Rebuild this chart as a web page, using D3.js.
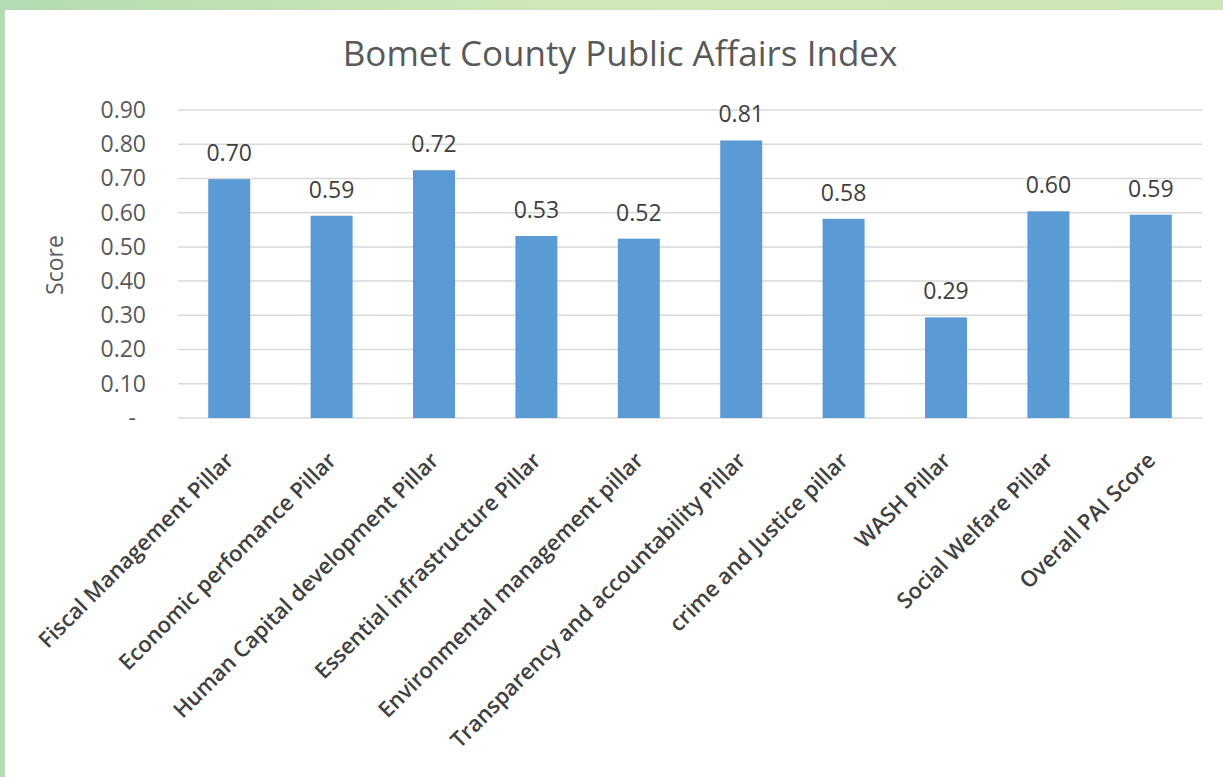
<!DOCTYPE html>
<html>
<head>
<meta charset="utf-8">
<script src="https://cdn.jsdelivr.net/npm/d3@7"></script>
<style>
  body { margin: 0; }
  svg { display: block; font-family: "Open Sans", sans-serif; }
</style>
</head>
<body>
<svg id="chart" width="1223" height="777"></svg>
<script>
// pillar names and scores
var categories = [
	'Fiscal Management Pillar',
	'Economic perfomance Pillar',
	'Human Capital development Pillar',
	'Essential infrastructure Pillar',
	'Environmental management pillar',
	'Transparency and accountability Pillar',
	'crime and Justice pillar',
	'WASH Pillar',
	'Social Welfare Pillar',
	'Overall PAI Score'
];
var scores = [0.698, 0.591, 0.724, 0.532, 0.524, 0.811, 0.582, 0.294, 0.604, 0.594];
var yTicks = [0, 0.1, 0.2, 0.3, 0.4, 0.5, 0.6, 0.7, 0.8, 0.9];

var svg = d3.select('#chart'),
		W = +svg.attr('width'),
		H = +svg.attr('height');

// green frame behind the white card
var defs = svg.append('defs');
var grad = defs.append('linearGradient').attr('id', 'frame')
		.attr('x1', 0).attr('y1', 0).attr('x2', 1).attr('y2', 0);
grad.append('stop').attr('offset', '0%').attr('stop-color', '#b4dbb2');
grad.append('stop').attr('offset', '45%').attr('stop-color', '#cfe8b9');
grad.append('stop').attr('offset', '100%').attr('stop-color', '#cce7b6');
svg.append('rect').attr('width', W).attr('height', H).attr('fill', 'url(#frame)');
svg.append('rect').attr('x', 5).attr('y', 10).attr('width', W - 5).attr('height', H - 10).attr('fill', '#fff');

var margin = {top: 110, left: 178, right: 21},
		plotH = 308,
		plotW = W - margin.left - margin.right;

var g = svg.append('g').attr('transform', 'translate(' + margin.left + ',' + margin.top + ')');

var x = d3.scaleBand().domain(categories).range([0, plotW]).paddingInner(0.59).paddingOuter(0.295);
var y = d3.scaleLinear().domain([0, 0.9]).range([plotH, 0]);

// gridlines
g.append('g').selectAll('line')
	.data(yTicks)
	.enter().append('line')
	.attr('x1', 0).attr('x2', plotW)
	.attr('y1', function(d) { return y(d); })
	.attr('y2', function(d) { return y(d); })
	.attr('stroke', '#d9d9d9')
	.attr('stroke-width', 1.5);

// y axis labels
var yAxis = d3.axisLeft(y).tickValues(yTicks).tickSize(0).tickPadding(32)
		.tickFormat(function(d) { return d === 0 ? '-' : d3.format('.2f')(d); });
var ya = g.append('g').call(yAxis);
ya.select('.domain').remove();
ya.selectAll('text').attr('font-size', 23).attr('fill', '#595959').attr('font-family', '"Open Sans", sans-serif');
ya.selectAll('.tick').filter(function(d) { return d === 0; }).select('text').attr('dx', -10);

// bars
g.selectAll('.bar')
	.data(scores)
	.enter().append('rect')
	.attr('class', 'bar')
	.attr('x', function(d, i) { return x(categories[i]); })
	.attr('y', function(d) { return y(d); })
	.attr('width', x.bandwidth())
	.attr('height', function(d) { return plotH - y(d); })
	.attr('fill', '#5b9bd5');

// value labels
g.selectAll('.val')
	.data(scores)
	.enter().append('text')
	.attr('class', 'val')
	.attr('x', function(d, i) { return x(categories[i]) + x.bandwidth() / 2; })
	.attr('y', function(d) { return y(d) - 18; })
	.attr('text-anchor', 'middle')
	.attr('font-size', 23)
	.attr('fill', '#404040')
	.text(function(d) { return d3.format('.2f')(d); });

// rotated category labels
var xa = g.append('g').attr('transform', 'translate(0,' + plotH + ')');
xa.selectAll('text')
	.data(categories)
	.enter().append('text')
	.attr('transform', function(d) {
		return 'translate(' + (x(d) + x.bandwidth() / 2 - 5) + ',33) rotate(-45)';
	})
	.attr('text-anchor', 'end')
	.attr('dy', '0.7em')
	.attr('font-size', 22)
	.attr('font-weight', 600)
	.attr('fill', '#404040')
	.text(function(d) { return d; });

// title
svg.append('text')
	.attr('x', 620).attr('y', 66)
	.attr('text-anchor', 'middle')
	.attr('font-size', 35)
	.attr('fill', '#595959')
	.text('Bomet County Public Affairs Index');

// y axis title
svg.append('text')
	.attr('transform', 'translate(63,265) rotate(-90)')
	.attr('text-anchor', 'middle')
	.attr('font-size', 23)
	.attr('fill', '#595959')
	.text('Score');
</script>
</body>
</html>
